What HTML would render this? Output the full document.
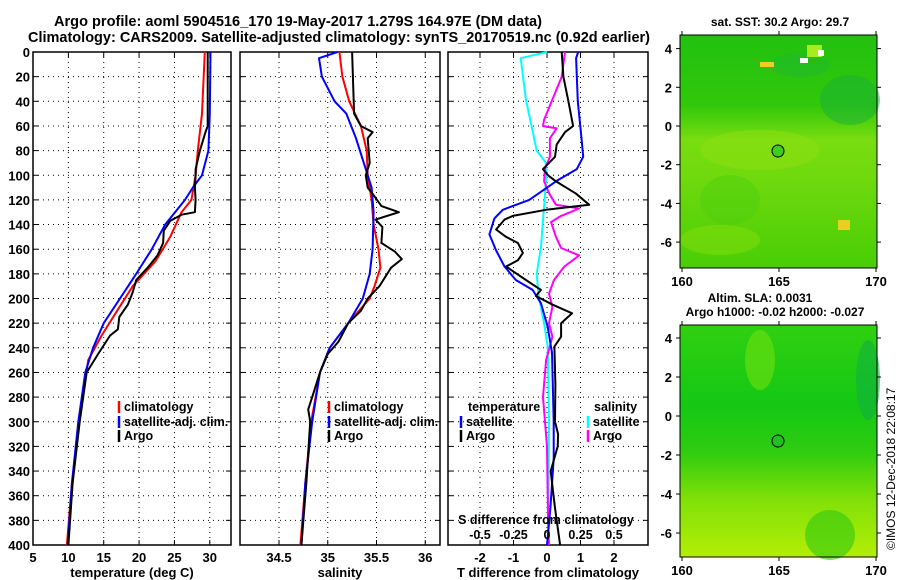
<!DOCTYPE html>
<html><head><meta charset="utf-8"><style>
html,body{margin:0;padding:0;background:#fff;}
svg{display:block;font-family:"Liberation Sans",sans-serif;font-weight:bold;}
</style></head><body>
<svg id="chart" width="900" height="580" viewBox="0 0 900 580" xmlns="http://www.w3.org/2000/svg">
<defs>
<linearGradient id="sstG" x1="0" y1="0" x2="0" y2="1">
<stop offset="0" stop-color="#22c010"/><stop offset="0.3" stop-color="#30c80a"/>
<stop offset="0.45" stop-color="#78dc10"/><stop offset="0.6" stop-color="#70da0e"/>
<stop offset="0.85" stop-color="#58d208"/><stop offset="1" stop-color="#48ce06"/>
</linearGradient>
<linearGradient id="slaG" x1="0" y1="0" x2="0" y2="1">
<stop offset="0" stop-color="#30d010"/><stop offset="0.35" stop-color="#14c814"/>
<stop offset="0.55" stop-color="#30cc10"/><stop offset="0.75" stop-color="#80e008"/>
<stop offset="1" stop-color="#b4ee06"/>
</linearGradient>
</defs>
<text x="298" y="26" font-size="15" text-anchor="middle" textLength="488" lengthAdjust="spacingAndGlyphs">Argo profile: aoml 5904516_170 19-May-2017 1.279S 164.97E (DM data)</text>
<text x="339" y="42" font-size="15" text-anchor="middle" textLength="622" lengthAdjust="spacingAndGlyphs">Climatology: CARS2009. Satellite-adjusted climatology: synTS_20170519.nc (0.92d earlier)</text>
<g id="plots"></g>

<g>
<text x="780" y="26" font-size="12" text-anchor="middle">sat. SST: 30.2 Argo: 29.7</text>
<rect x="680" y="35" width="197" height="233" fill="url(#sstG)"/>
<ellipse cx="800" cy="65" rx="30" ry="12" fill="#20b830" opacity="0.5"/>
<ellipse cx="850" cy="100" rx="30" ry="25" fill="#18b038" opacity="0.5"/>
<ellipse cx="760" cy="150" rx="60" ry="20" fill="#90e010" opacity="0.5"/>
<ellipse cx="720" cy="240" rx="40" ry="15" fill="#90e010" opacity="0.4"/>
<ellipse cx="730" cy="200" rx="30" ry="25" fill="#48cc10" opacity="0.4"/>
<rect x="807" y="45" width="15" height="12" fill="#a8ec20"/>
<rect x="800" y="58" width="8" height="5" fill="#fff"/>
<rect x="818" y="50" width="6" height="6" fill="#fff"/>
<rect x="760" y="62" width="14" height="5" fill="#e8d020"/>
<rect x="838" y="220" width="12" height="10" fill="#e8d020"/>
<circle cx="778" cy="151" r="6" fill="#40cc20" stroke="#000" stroke-width="1"/>
<rect x="680" y="35" width="197" height="233" fill="none" stroke="#000" stroke-width="1"/>
<g id="map1ticks"></g>
</g>

<g>
<text x="760" y="302" font-size="12" text-anchor="middle">Altim. SLA: 0.0031</text>
<text x="775" y="316" font-size="12" text-anchor="middle">Argo h1000: -0.02 h2000: -0.027</text>
<rect x="680" y="325" width="197" height="232" fill="url(#slaG)"/>
<ellipse cx="760" cy="360" rx="15" ry="30" fill="#70e010" opacity="0.6"/>
<ellipse cx="868" cy="380" rx="12" ry="40" fill="#10b040" opacity="0.6"/>
<ellipse cx="830" cy="535" rx="25" ry="25" fill="#30c810" opacity="0.6"/>
<circle cx="778" cy="441" r="6" fill="#20c020" stroke="#000" stroke-width="1"/>
<rect x="680" y="325" width="197" height="232" fill="none" stroke="#000" stroke-width="1"/>
<g id="map2ticks"></g>
</g>
<text transform="translate(895,550) rotate(-90)" font-size="12" font-weight="normal">©IMOS 12-Dec-2018 22:08:17</text>
</svg>
<script>
const depthTicks=[0,20,40,60,80,100,120,140,160,180,200,220,240,260,280,300,320,340,360,380,400];
const tempTicks=[5,10,15,20,25,30];
const salTicks=[34.5,35,35.5,36];
const dtTicks=[-2,-1,0,1,2];
const dsTicks=[-0.5,-0.25,0,0.25,0.5];
const dsTickLabels=['-0.5','-0.25','0','0.25','0.5'];
const sstLonTicks=[160,165,170];
const sstLatTicks=[4,2,0,-2,-4,-6];

const tClimD=[0,50,80,100,120,130,150,170,190,210,230,250,300,350,400];
const tClimV=[29.3,28.9,28.3,28.0,27.4,26.0,24.4,22.3,19.1,16.9,14.7,12.8,11.5,10.5,9.8];
const tSatD=[0,50,80,100,110,120,140,160,180,200,220,240,260,300,350,400];
const tSatV=[30.1,30.0,29.8,28.9,27.6,26.5,23.7,21.8,19.6,17.3,15.0,13.5,12.4,11.4,10.5,9.9];
const tArgoD=[0,60,65,80,95,100,110,120,130,132,137,145,155,165,175,185,195,205,215,225,230,245,260,300,350,400];
const tArgoV=[29.7,29.7,29.4,28.6,28.0,28.0,27.9,28.0,27.9,26.0,24.4,23.5,23.4,22.6,21.2,19.6,19.1,18.4,17.2,17.0,15.9,14.2,12.6,11.6,10.6,10.0];

const sClimD=[0,20,40,60,80,100,120,140,160,175,190,200,220,240,260,300,350,400];
const sClimV=[35.12,35.15,35.22,35.34,35.40,35.41,35.45,35.47,35.52,35.54,35.48,35.43,35.21,35.02,34.92,34.83,34.77,34.72];
const sSatD=[0,5,20,40,50,70,90,110,130,160,180,200,220,240,260,300,350,400];
const sSatV=[35.1,34.91,34.94,35.07,35.19,35.29,35.37,35.45,35.47,35.46,35.43,35.36,35.21,35.02,34.92,34.84,34.77,34.73];
const sArgoD=[0,50,60,65,70,90,100,110,115,125,130,136,142,155,162,168,175,190,200,210,220,235,245,260,280,290,300,350,400];
const sArgoV=[35.25,35.27,35.34,35.46,35.41,35.43,35.39,35.41,35.46,35.55,35.73,35.49,35.56,35.55,35.69,35.76,35.65,35.53,35.41,35.34,35.21,35.11,35.0,34.92,34.84,34.80,34.82,34.78,34.73];

const dTSatD=[0,5,40,70,85,95,104,120,128,135,148,161,174,185,193,204,223,244,300,330,370,400];
const dTSatV=[0.93,0.87,0.92,1.03,1.08,0.89,0.32,-0.53,-1.32,-1.57,-1.72,-1.52,-1.27,-0.93,-0.43,-0.18,0.02,0.15,0.2,0.2,0.1,0.0];
const dTArgoD=[0,20,40,60,65,75,85,95,100,105,115,124,128,133,136,144,150,155,163,169,174,185,193,198,205,212,220,231,239,270,300,310,320,340,370,400];
const dTArgoV=[0.44,0.49,0.64,0.78,0.54,0.29,0.24,-0.12,0.03,0.27,0.87,1.26,-0.03,-1.02,-1.27,-1.52,-1.22,-0.87,-0.72,-0.87,-1.22,-0.63,-0.18,-0.33,0.17,0.75,0.42,0.42,0.22,0.25,0.24,0.33,0.32,0.11,0.24,0.39];
const dSSatD=[0,5,39,80,90,104,158,180,198,220,239,300,400];
const dSSatV=[0,-0.196,-0.157,-0.077,-0.008,-0.007,-0.045,-0.077,-0.062,-0.022,0.005,0.015,0.008];
const dSArgoD=[0,20,40,55,60,62,70,85,95,105,115,124,127,133,138,150,159,165,174,185,196,207,220,231,250,280,300,320,380,400];
const dSArgoV=[0.134,0.11,0.035,-0.022,-0.03,0.072,0.022,0.022,-0.015,-0.022,0.017,0.067,0.24,0.105,0.03,0.067,0.105,0.24,0.13,0.052,0.015,0.04,0.015,0.04,-0.007,-0.03,-0.015,0,0.008,0.015];

const NS='http://www.w3.org/2000/svg';
const root=document.getElementById('plots');
const Y0=52,Y1=545;
function yD(d){return Y0+(d/400)*(Y1-Y0);}
function mk(tag,attrs,parent){const e=document.createElementNS(NS,tag);for(const k in attrs)e.setAttribute(k,attrs[k]);(parent||root).appendChild(e);return e;}
function line(parent,x1,y1,x2,y2,extra){const e=mk('line',Object.assign({x1,y1,x2,y2,stroke:'#000','stroke-width':1},extra||{}),parent);return e;}
function txt(parent,x,y,s,size,anchor){const e=mk('text',{x,y,'font-size':size,'text-anchor':anchor||'middle'},parent);e.textContent=s;return e;}

function panel(name,L,R,xs,vticks,vlabels,showDepth,xtitle){
  const g=mk('g',{});
  
  
  depthTicks.forEach(d=>{
    if(d>0&&d<400){const gl=line(g,L,yD(d),R,yD(d),{'stroke-dasharray':'1,4'});
    
    }
    line(g,L,yD(d),L+5,yD(d));line(g,R-5,yD(d),R,yD(d));
    if(showDepth){const t=txt(g,L-3,yD(d)+5,String(d),13,'end');
      
      }
  });
  vticks.forEach((v,i)=>{
    const x=xs(v);
    if(x>L+1&&x<R-1){const gl=line(g,x,Y0,x,Y1,{'stroke-dasharray':'1,4'});
      
      }
    line(g,x,Y0,x,Y0+5);line(g,x,Y1-5,x,Y1);
    if(vlabels){const t=txt(g,x,Y1+17,vlabels[i],13);
      
      }
  });
  const r=mk('rect',{x:L,y:Y0,width:R-L,height:Y1-Y0,fill:'none',stroke:'#000','stroke-width':1.5},g);
  
  
  const t=txt(g,(L+R)/2,Y1+32,xtitle,13);
  
  
  return g;
}
function series(g,name,D,V,xs,color){
  const pts=D.map((d,i)=>xs(V[i]).toFixed(1)+','+yD(d).toFixed(1)).join(' ');
  const p=mk('polyline',{points:pts,fill:'none',stroke:color,'stroke-width':2,'stroke-linejoin':'round'},g);
  
  
}
function legend(g,x,y,color,label,name){
  line(g,x,y-10,x,y+2,{stroke:color,'stroke-width':2.5});
  const t=txt(g,x+5,y,label,12.5,'start');
  
  
}

const xT=v=>33+(v-5)*(198/28);
const gT=panel('temperature-panel',33,231,xT,tempTicks,tempTicks.map(String),true,'temperature (deg C)');
series(gT,'temperature-climatology-line',tClimD,tClimV,xT,'#f00');
series(gT,'temperature-satellite-line',tSatD,tSatV,xT,'#00f');
series(gT,'temperature-argo-line',tArgoD,tArgoV,xT,'#000');
legend(gT,119,411,'#f00','climatology','legend-climatology');
legend(gT,119,426,'#00f','satellite-adj. clim.','legend-satellite-adj');
legend(gT,119,440,'#000','Argo','legend-argo');

const xS=v=>279+(v-34.5)*97.5;
const gS=panel('salinity-panel',240,440,xS,salTicks,salTicks.map(String),false,'salinity');
series(gS,'salinity-climatology-line',sClimD,sClimV,xS,'#f00');
series(gS,'salinity-satellite-line',sSatD,sSatV,xS,'#00f');
series(gS,'salinity-argo-line',sArgoD,sArgoV,xS,'#000');
legend(gS,329,411,'#f00','climatology','legend-climatology');
legend(gS,329,426,'#00f','satellite-adj. clim.','legend-satellite-adj');
legend(gS,329,440,'#000','Argo','legend-argo');

const xDT=v=>547+v*33.5;
const xDS=v=>547+v*134;
const gD=panel('difference-panel',448,648,xDT,dtTicks,dtTicks.map(String),false,'T difference from climatology');
series(gD,'salinity-diff-satellite-line',dSSatD,dSSatV,xDS,'#0ff');
series(gD,'salinity-diff-argo-line',dSArgoD,dSArgoV,xDS,'#f0f');
series(gD,'temperature-diff-satellite-line',dTSatD,dTSatV,xDT,'#00f');
series(gD,'temperature-diff-argo-line',dTArgoD,dTArgoV,xDT,'#000');
{const t=txt(gD,468,411,'temperature',12.5,'start');}
{const t=txt(gD,594,411,'salinity',12.5,'start');}
legend(gD,461,426,'#00f','satellite','legend-t-satellite');
legend(gD,461,440,'#000','Argo','legend-t-argo');
legend(gD,588,426,'#0ff','satellite','legend-s-satellite');
legend(gD,588,440,'#f0f','Argo','legend-s-argo');
{const t=txt(gD,546,524,'S difference from climatology',12.5);}
dsTicks.forEach((v,i)=>{const t=txt(gD,xDS(v),539,dsTickLabels[i],12.5);
  
  });

function mapTicks(id,top,bot,latTicks,latY){
  const g=document.getElementById(id);
  sstLonTicks.forEach(v=>{const x=682+(v-160)*19.4;
    line(g,x,top-4,x,top);line(g,x,bot,x,bot+4);
    const t=txt(g,x,bot+18,String(v),13);
    
    });
  latTicks.forEach(v=>{const y=latY(v);
    line(g,676,y,680,y);line(g,877,y,881,y);
    const t=txt(g,672,y+5,String(v),13,'end');
    
    });
}
mapTicks('map1ticks',35,268,sstLatTicks,v=>126-v*19.35);
mapTicks('map2ticks',325,557,sstLatTicks,v=>416-v*19.5);
</script>
</body></html>
